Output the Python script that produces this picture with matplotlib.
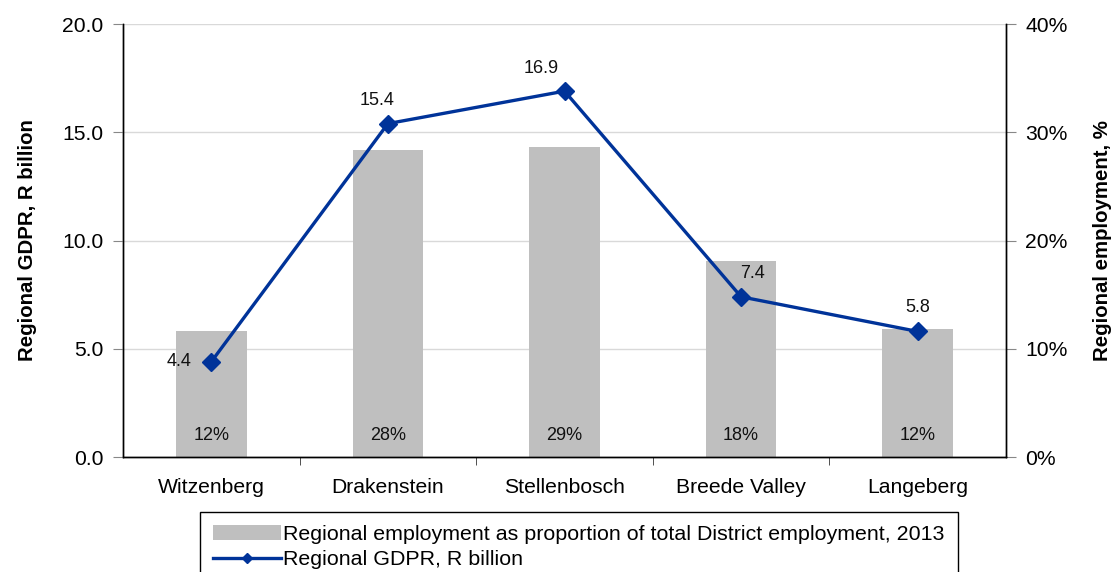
import matplotlib
matplotlib.use("Agg")
import matplotlib.pyplot as plt
from matplotlib.ticker import FuncFormatter, FixedLocator
from matplotlib.patches import Patch
from matplotlib.lines import Line2D

plt.rcParams['font.family'] = ['Liberation Sans', 'DejaVu Sans']

regions = ["Witzenberg", "Drakenstein", "Stellenbosch", "Breede Valley", "Langeberg"]
employment_share = [0.116, 0.284, 0.286, 0.181, 0.118]
gdpr_billion = [4.4, 15.4, 16.9, 7.4, 5.8]
gdpr_ticks = [0.0, 5.0, 10.0, 15.0, 20.0]
share_ticks = [0.0, 0.1, 0.2, 0.3, 0.4]

bar_label = "Regional employment as proportion of total District employment, 2013"
line_label = "Regional GDPR, R billion"

# label offsets (points) for the GDPR values
label_offsets = [(-23, 0), (-8, 17), (-17, 16), (8, 17), (0, 17)]

FS = 15.2
LABEL_FS = 13
BAR_COLOR = "#bfbfbf"
LINE_COLOR = "#003399"

fig = plt.figure(figsize=(11.13, 5.72), dpi=100)
ax_bar = fig.add_axes([0.1105, 0.201, 0.7934, 0.757])
ax_line = ax_bar.twinx()
ax_bar.yaxis.tick_right()
ax_bar.yaxis.set_label_position("right")
ax_line.yaxis.tick_left()
ax_line.yaxis.set_label_position("left")
ax_line.set_zorder(ax_bar.get_zorder() + 1)
ax_line.patch.set_visible(False)

x = list(range(len(regions)))

# employment bars (right axis)
ax_bar.bar(x, employment_share, width=0.4, color=BAR_COLOR, zorder=2)
for xi, v in zip(x, employment_share):
    ax_bar.text(xi, 0.02, f"{v:.0%}", ha="center", va="center", fontsize=LABEL_FS, color="#111111", zorder=3)
ax_bar.set_ylim(0, 0.4)
ax_bar.set_yticks(share_ticks)
ax_bar.yaxis.set_major_formatter(FuncFormatter(lambda v, p: f"{v:.0%}"))
ax_bar.grid(axis="y", color="#d9d9d9", linewidth=1.0, zorder=0)
ax_bar.set_axisbelow(True)
ax_bar.set_ylabel("Regional employment, %", fontsize=14.7, fontweight="bold", labelpad=18)

# GDPR line (left axis)
ax_line.plot(x, gdpr_billion, color=LINE_COLOR, linewidth=2.4, marker="D", markersize=9,
             markerfacecolor=LINE_COLOR, markeredgecolor=LINE_COLOR, zorder=5, clip_on=False)
for xi, v, off in zip(x, gdpr_billion, label_offsets):
    ax_line.annotate(f"{v:.1f}", (xi, v), xytext=off, textcoords="offset points",
                     ha="center", va="center", fontsize=LABEL_FS, color="#111111")
ax_line.set_ylim(0, 20)
ax_line.set_yticks(gdpr_ticks)
ax_line.yaxis.set_major_formatter(FuncFormatter(lambda v, p: f"{v:.1f}"))
ax_line.set_ylabel("Regional GDPR, R billion", fontsize=14.7, fontweight="bold", labelpad=18)

ax_bar.set_xlim(-0.5, len(regions) - 0.5)
ax_bar.set_xticks(x)
ax_bar.set_xticklabels(regions, fontsize=FS)
ax_bar.xaxis.set_minor_locator(FixedLocator([i + 0.5 for i in range(len(regions) - 1)]))
ax_bar.tick_params(axis="x", which="major", length=0, pad=15)
ax_bar.tick_params(axis="x", which="minor", length=6, color="#333333", direction="out")

for a in (ax_bar, ax_line):
    a.spines["top"].set_visible(False)
    for s in ("left", "right", "bottom"):
        a.spines[s].set_color("black")
        a.spines[s].set_linewidth(1.0)
ax_bar.tick_params(axis="y", labelsize=FS, length=7, color="#888888", pad=7)
ax_line.tick_params(axis="y", labelsize=FS, length=7, color="#888888", pad=7)

handles = [Patch(facecolor=BAR_COLOR, edgecolor="none"),
           Line2D([], [], color=LINE_COLOR, linewidth=2.4, marker="D", markersize=5)]
leg = fig.legend(handles, [bar_label, line_label], loc="upper left",
                 bbox_to_anchor=(200 / 1113, 1 - 512 / 572), fontsize=15.4,
                 frameon=True, fancybox=False, edgecolor="black", framealpha=1,
                 handlelength=3.2, handletextpad=0.1, borderpad=0.6, labelspacing=0.3,
                 borderaxespad=0)
leg.get_frame().set_linewidth(1.0)

fig.savefig("out.png", dpi=100)
